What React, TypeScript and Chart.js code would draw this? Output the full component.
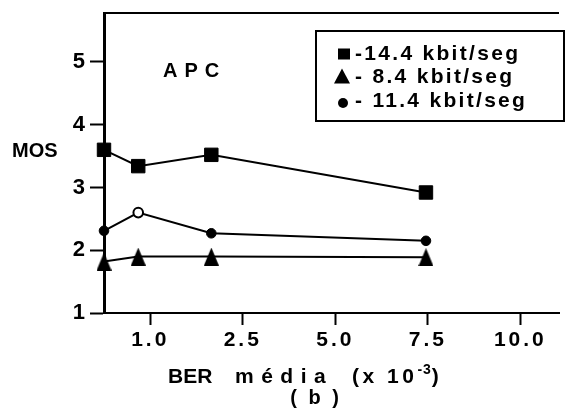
import React, { useEffect, useRef } from 'react';
import { Chart, registerables } from 'chart.js';

Chart.register(...registerables);

// ---- data ----
const xTickLabels = ['1.0', '2.5', '5.0', '7.5', '10.0'];
const yTickValues = [1, 2, 3, 4, 5];
// positions of the measured points along the (ordinal) BER axis, in tick-slot units (1.0 -> 1, 2.5 -> 2, ...)
const berPositions = [0.5, 0.87, 1.66, 3.98];
const seriesLabels = ['14.4 kbit/seg', '8.4 kbit/seg', '11.4 kbit/seg'];
const mos144 = [3.6, 3.34, 3.52, 2.92];
const mos84 = [1.82, 1.9, 1.9, 1.89];
const mos114 = [2.31, 2.6, 2.27, 2.15];
const mos114Hollow = [false, true, false, false];

const FONT = "'Liberation Sans', Arial, sans-serif";

function makeTriangle(w: number, h: number) {
  const c = document.createElement('canvas');
  c.width = w;
  c.height = h;
  const g = c.getContext('2d')!;
  g.fillStyle = '#000';
  g.beginPath();
  g.moveTo(w / 2, 0);
  g.lineTo(w, h);
  g.lineTo(0, h);
  g.closePath();
  g.fill();
  return c;
}

const framePlugin = {
  id: 'frameTop',
  beforeDraw(chart: any) {
    chart.ctx.letterSpacing = '3px';
  },
  afterDraw(chart: any) {
    const { ctx, chartArea } = chart;
    ctx.letterSpacing = '0px';
    ctx.save();
    ctx.strokeStyle = '#000';
    ctx.lineWidth = 2;
    ctx.beginPath();
    ctx.moveTo(chartArea.left, chartArea.top);
    ctx.lineTo(chartArea.right, chartArea.top);
    ctx.stroke();
    ctx.restore();
  },
};

function Txt(props: { x: number; baseline: number; size: number; ls?: number; children: React.ReactNode; style?: React.CSSProperties }) {
  const { x, baseline, size, ls = 0, children, style } = props;
  return (
    <div
      style={{
        position: 'absolute',
        left: x,
        top: baseline - 0.8465 * size,
        fontFamily: FONT,
        fontWeight: 'bold',
        fontSize: size,
        lineHeight: `${size}px`,
        letterSpacing: ls,
        whiteSpace: 'pre',
        color: '#000',
        ...style,
      }}
    >
      {children}
    </div>
  );
}

function Marker({ kind, cx, cy }: { kind: string; cx: number; cy: number }) {
  const w = 18, h = 18;
  let shape: React.ReactNode = null;
  if (kind === 'rect') shape = <rect x={3} y={3.5} width={12} height={11} fill="#000" />;
  else if (kind === 'triangle') shape = <polygon points="9,1.5 17,16.5 1,16.5" fill="#000" />;
  else shape = <circle cx={9} cy={9} r={5} fill="#000" />;
  return (
    <svg width={w} height={h} style={{ position: 'absolute', left: cx - w / 2, top: cy - h / 2 }}>
      {shape}
    </svg>
  );
}

const legendMarkers = ['rect', 'triangle', 'circle'];
const legendPrefixes = ['-', '- ', '- '];

export default function App() {
  const ref = useRef<HTMLCanvasElement | null>(null);

  useEffect(() => {
    if (!ref.current) return;
    const tri = makeTriangle(15, 18);
    const pts = (ys: number[]) => berPositions.map((x, i) => ({ x, y: ys[i] }));
    const chart = new Chart(ref.current, {
      type: 'line',
      data: {
        datasets: [
          {
            label: seriesLabels[0],
            data: pts(mos144),
            borderColor: '#000',
            borderWidth: 2,
            pointStyle: 'rect',
            pointRadius: 9.5,
            pointBackgroundColor: '#000',
            pointBorderColor: '#000',
            pointBorderWidth: 1,
            clip: false as any,
          },
          {
            label: seriesLabels[1],
            data: pts(mos84),
            borderColor: '#000',
            borderWidth: 2,
            pointStyle: tri as any,
            pointRadius: 9,
            pointBackgroundColor: '#000',
            pointBorderColor: '#000',
            clip: false as any,
          },
          {
            label: seriesLabels[2],
            data: pts(mos114),
            borderColor: '#000',
            borderWidth: 2,
            pointStyle: 'circle',
            pointRadius: 4.8,
            pointBackgroundColor: mos114Hollow.map((h) => (h ? '#fff' : '#000')),
            pointBorderColor: '#000',
            pointBorderWidth: mos114Hollow.map((h) => (h ? 2 : 1)),
            clip: false as any,
          },
        ],
      },
      options: {
        responsive: false,
        animation: false,
        events: [],
        devicePixelRatio: 1,
        layout: { padding: { top: 13, left: 0, right: 0, bottom: 0 } },
        plugins: { legend: { display: false }, tooltip: { enabled: false } },
        elements: { line: { tension: 0 } },
        scales: {
          x: {
            type: 'linear',
            min: 0.5,
            max: 5.418,
            afterBuildTicks: (s: any) => {
              s.ticks = xTickLabels.map((_, i) => ({ value: i + 1 }));
            },
            afterFit: (s: any) => {
              s.height = 104;
              s.paddingLeft = 0;
              s.paddingRight = 0;
            },
            ticks: {
              color: '#000',
              font: { family: FONT, size: 21, weight: 'bold' },
              padding: 3,
              maxRotation: 0,
              autoSkip: false,
              callback: (v: any) => xTickLabels[Math.round(v) - 1] ?? '',
            },
            grid: {
              display: true,
              drawOnChartArea: false,
              drawTicks: true,
              tickLength: 12,
              tickWidth: 2,
              tickColor: '#000',
            },
            border: { display: true, color: '#000', width: 2 },
          },
          y: {
            type: 'linear',
            min: 1,
            max: 5.78,
            afterBuildTicks: (s: any) => {
              s.ticks = yTickValues.map((v) => ({ value: v }));
            },
            afterFit: (s: any) => {
              s.width = 104;
              s.paddingTop = 0;
              s.paddingBottom = 0;
            },
            ticks: {
              color: '#000',
              font: { family: FONT, size: 22, weight: 'bold' },
              padding: 2,
              callback: (v: any) => String(v),
            },
            grid: {
              display: true,
              drawOnChartArea: false,
              drawTicks: true,
              tickLength: 14,
              tickWidth: 2,
              tickColor: '#000',
            },
            border: { display: true, color: '#000', width: 3 },
          },
        },
      },
      plugins: [framePlugin],
    } as any);
    return () => chart.destroy();
  }, []);

  const legendBaselines = [60, 83, 107];
  const legendMarkerCenters = [
    [344, 53.5],
    [342, 75.5],
    [343, 102.5],
  ];

  return (
    <div style={{ position: 'fixed', left: 0, top: 0, width: 570, height: 417, background: '#fff', overflow: 'hidden' }}>
      <canvas ref={ref} width={570} height={417} style={{ display: 'block', width: 570, height: 417 }} />
      <Txt x={12} baseline={157} size={20}>MOS</Txt>
      <Txt x={163} baseline={77} size={20} ls={7}>APC</Txt>
      <div
        style={{
          position: 'absolute',
          left: 315,
          top: 30,
          width: 250,
          height: 92,
          border: '2px solid #000',
          boxSizing: 'border-box',
        }}
      />
      {seriesLabels.map((lab, i) => (
        <React.Fragment key={lab}>
          <Marker kind={legendMarkers[i]} cx={legendMarkerCenters[i][0]} cy={legendMarkerCenters[i][1]} />
          <Txt x={355} baseline={legendBaselines[i]} size={21} ls={2.3}>
            {legendPrefixes[i] + lab}
          </Txt>
        </React.Fragment>
      ))}
      <Txt x={168} baseline={383} size={21} ls={0}>BER</Txt>
      <Txt x={235} baseline={383} size={21} ls={7.5}>média</Txt>
      <Txt x={352} baseline={383} size={21} ls={3.5}>
        {'(x 10'}
        <span style={{ fontSize: 14, position: 'relative', top: -9, letterSpacing: 1 }}>-3</span>
        {')'}
      </Txt>
      <div
        style={{
          position: 'absolute',
          left: 266,
          width: 100,
          top: 404 - 0.8465 * 20,
          textAlign: 'center',
          fontFamily: FONT,
          fontWeight: 'bold',
          fontSize: 20,
          lineHeight: '20px',
          letterSpacing: 3,
          whiteSpace: 'pre',
        }}
      >
        ( b )
      </div>
    </div>
  );
}
